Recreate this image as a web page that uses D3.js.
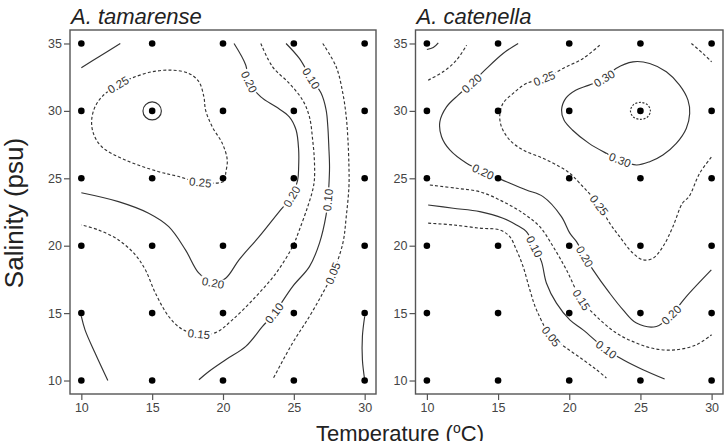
<!DOCTYPE html>
<html>
<head>
<meta charset="utf-8">
<script src="https://d3js.org/d3.v7.min.js"></script>
<style>
  body { margin: 0; background: #fff; }
  svg { display: block; }
  text { font-family: "Liberation Sans", Arial, Helvetica, sans-serif; }
</style>
</head>
<body>
<svg width="725" height="441"></svg>
<script>
// grid of measured points
var temps = [10, 15, 20, 25, 30];
var salinities = [10, 15, 20, 25, 30, 35];
var tempTicks = [10, 15, 20, 25, 30];
var salTicks = [10, 15, 20, 25, 30, 35];

// contour traces: [temperature, salinity, labelHere]
// A. tamarense
var tamTopLeft = [[10, 33.2], [11.3, 34.05], [12.75, 35]];
var tam025 = [[20.1, 24.8], [18.4, 24.7, 1], [16.8, 25.15], [15.46, 25.49], [13.1, 26.36], [11.44, 27.34],
  [10.85, 28.33], [10.73, 29.32], [10.97, 30.3], [11.5, 31.1], [12.6, 31.95, 1], [13.6, 32.45], [14.99, 32.9],
  [16.4, 33.02], [17.59, 32.78], [18.3, 32.16], [18.65, 31.04], [18.77, 30.06], [19.24, 28.82], [19.95, 27.59],
  [20.3, 26.36], [20.19, 25.37]];
var tamRing = [[15.65, 30], [15.46, 30.47], [15, 30.67], [14.54, 30.47], [14.35, 30], [14.54, 29.53], [15, 29.33], [15.46, 29.53]];
var tam020 = [[20.78, 35], [21.61, 33.39], [21.84, 32.16, 1], [22.67, 31.04], [23.74, 30.3], [24.68, 29.56],
  [25.16, 28.58], [25.34, 27.1], [25.34, 25.86], [25.27, 24.87], [24.85, 23.65, 1], [23.97, 22.53], [22.55, 20.67],
  [21.13, 18.95], [20.19, 17.59], [19.3, 17.25, 1], [18.3, 17.96], [17.35, 19.69], [16.17, 21.41], [14.75, 22.41],
  [12.62, 23.27], [10, 23.93]];
var tam015 = [[22.67, 35], [23.5, 33.27], [24.68, 32.04], [25.62, 30.8], [26.1, 29.56], [26.33, 27.84],
  [26.45, 26.36], [26.45, 24.87], [26.33, 24.13], [25.98, 22.9], [25.39, 21.17], [24.91, 19.93], [23.74, 17.96],
  [22.32, 16.23], [20.66, 14.5], [19.48, 13.55], [18.3, 13.45, 1], [17.11, 13.81], [16.17, 14.75], [15.23, 16.48],
  [14.52, 18.21], [13.81, 19.32], [12.62, 20.43], [11.2, 21.17], [10, 21.54]];
var tam010 = [[24.45, 35], [25.39, 33.89], [26.22, 32.41, 1], [26.93, 31.3], [27.28, 30.06], [27.4, 28.82],
  [27.47, 27.34], [27.52, 25.86], [27.47, 24.38], [27.4, 23.39, 1], [27.28, 22.28], [26.81, 20.19], [26.1, 18.45],
  [24.91, 16.97], [23.62, 15.0, 1], [22.79, 14.01], [21.61, 12.53], [20.19, 11.54], [19.0, 10.67], [18.3, 10.06]];
var tam005 = [[27.04, 35], [27.99, 33.27], [28.46, 31.3], [28.7, 29.56], [28.82, 27.84], [28.89, 25.86],
  [28.89, 24.38], [28.7, 22.16], [28.46, 20.19], [27.75, 17.96, 1], [27.04, 16.48], [26.1, 14.75], [24.91, 12.78],
  [23.5, 10.06]];
var tamBottomLeft = [[10, 14.75], [10.26, 13.76], [10.97, 12.04], [11.87, 10]];
var tamBottomRight = [[30, 14.75], [29.84, 13.27], [29.84, 11.54], [30, 10.06]];

// A. catenella
var catCorner = [[10, 34.55], [10.45, 34.7], [10.8, 35.05]];
var catTopLeft = [[10.09, 32.28], [11.14, 32.9], [12.08, 33.76], [12.79, 34.87]];
var cat020 = [[16.41, 35], [15.35, 34.26], [14.07, 33.02], [13.14, 32.04, 1], [12.2, 31.17], [11.38, 30.3],
  [10.91, 29.19], [11.03, 28.08], [11.61, 27.1], [12.79, 26.11], [13.95, 25.49, 1], [15.59, 24.75], [16.99, 24.13],
  [18.16, 23.64], [19.45, 22.16], [20.04, 20.93], [20.51, 20.3], [21.09, 19.19, 1], [21.67, 18.21], [22.84, 16.48],
  [23.78, 15.24], [24.72, 14.26], [26.12, 14.01], [27.17, 14.87, 1], [28.22, 16.23], [29.98, 18.21]];
var cat025 = [[22.14, 34.87], [20.97, 33.89], [19.56, 33.15], [18.25, 32.41, 1], [16.99, 32.04], [16.06, 31.3],
  [15.35, 30.56], [15.12, 29.69], [15.24, 28.82], [15.82, 27.84], [16.76, 27.1], [18.16, 26.48], [19.33, 25.86],
  [20.04, 25.37], [20.74, 24.63], [22.1, 23.0, 1], [22.84, 21.67], [23.54, 20.67], [24.48, 19.44], [25.18, 18.95],
  [25.88, 19.07], [26.58, 19.93], [27.28, 21.41], [27.95, 23.15], [28.41, 23.64], [29.16, 25.37], [30, 26.6]];
var catTopRight = [[28.58, 35], [29.39, 34.26], [30, 33.64]];
var cat030 = [[22.46, 32.41, 1], [23.28, 33.15], [24.48, 33.64], [25.65, 33.52], [26.82, 32.9], [27.75, 31.91],
  [28.34, 30.8], [28.46, 29.81], [28.22, 28.7], [27.52, 27.59], [26.58, 26.73], [25.65, 26.23], [24.72, 25.99],
  [23.56, 26.36, 1], [22.61, 26.85], [21.39, 27.59], [20.22, 28.58], [19.63, 29.32], [19.46, 30.06], [19.75, 30.93],
  [20.45, 31.54], [21.39, 31.91]];
var catRing = [[25.7, 30], [25.5, 30.45], [25, 30.63], [24.5, 30.45], [24.3, 30], [24.5, 29.55], [25, 29.37], [25.5, 29.55]];
var cat015 = [[10.21, 24.5], [12.08, 24.26], [13.72, 24.0], [15.35, 23.27], [16.76, 22.41], [17.93, 21.41],
  [18.87, 19.93], [19.8, 18.21], [20.86, 15.98, 1], [21.91, 14.75], [23.31, 13.52], [24.72, 12.78], [26.12, 12.33],
  [27.52, 12.28], [28.93, 12.65], [30, 13.4]];
var cat010 = [[10.09, 23.02], [11.85, 22.78], [13.72, 22.53], [15.35, 22.04], [16.29, 21.54], [16.99, 21.04],
  [17.56, 19.93, 1], [18.05, 18.82], [18.4, 17.22], [19.1, 15.74], [20.04, 14.5], [20.97, 13.76], [22.6, 12.3, 1],
  [23.78, 11.54], [25.18, 10.8], [26.7, 10.11]];
var cat005 = [[10.09, 21.67], [11.85, 21.54], [13.72, 21.3], [15.12, 21.17], [15.82, 20.67], [16.29, 19.69],
  [16.76, 18.45], [17.23, 16.73], [17.7, 15.24], [18.73, 13.27, 1], [19.8, 12.41], [20.97, 11.54], [21.91, 10.8],
  [22.61, 10.19]];

var panels = [
  { title: "A. tamarense", left: 70, right: 376, contours: [
    { level: 0.20, pts: tamTopLeft }, { level: 0.25, pts: tam025, closed: true },
    { level: 0.30, pts: tamRing, closed: true }, { level: 0.20, pts: tam020 },
    { level: 0.15, pts: tam015 }, { level: 0.10, pts: tam010 }, { level: 0.05, pts: tam005 },
    { level: 0.10, pts: tamBottomLeft }, { level: 0.00, pts: tamBottomRight } ] },
  { title: "A. catenella", left: 415.5, right: 723, contours: [
    { level: 0.10, pts: catCorner }, { level: 0.15, pts: catTopLeft }, { level: 0.20, pts: cat020 },
    { level: 0.25, pts: cat025 }, { level: 0.25, pts: catTopRight }, { level: 0.30, pts: cat030, closed: true },
    { level: 0.35, pts: catRing, closed: true }, { level: 0.15, pts: cat015 }, { level: 0.10, pts: cat010 },
    { level: 0.05, pts: cat005 } ] }
];

var svg = d3.select("svg");
var top0 = 30, bottom0 = 394;
var fmt = d3.format(".2f");
var ink = "#333";

panels.forEach(function(p, pi) {
  var x = d3.scaleLinear().domain([9.2, 30.8]).range([p.left, p.right]);
  var y = d3.scaleLinear().domain([9, 36]).range([bottom0, top0]);
  var g = svg.append("g");

  // axes (frame drawn separately)
  var ya = g.append("g").attr("transform", "translate(" + p.left + ",0)")
    .call(d3.axisLeft(y).tickValues(salTicks).tickSize(6).tickPadding(2));
  var xa = g.append("g").attr("transform", "translate(0," + bottom0 + ")")
    .call(d3.axisBottom(x).tickValues(tempTicks).tickSize(6).tickPadding(3));
  [ya, xa].forEach(function(a) {
    a.select(".domain").remove();
    a.attr("font-family", null).attr("font-size", null);
    a.selectAll("line").attr("stroke", "#555").attr("stroke-width", 1.2);
    a.selectAll("text").attr("fill", "#444").style("font-size", "12.5px");
  });

  g.append("rect")
    .attr("x", p.left).attr("y", top0)
    .attr("width", p.right - p.left).attr("height", bottom0 - top0)
    .attr("fill", "none").attr("stroke", "#555").attr("stroke-width", 1.4);

  g.append("text")
    .attr("x", p.left + 1).attr("y", 24)
    .attr("font-style", "italic").attr("font-size", 22).attr("fill", "#222")
    .text(p.title);

  var cg = g.append("g");
  p.contours.forEach(function(c) {
    var dashed = Math.round(c.level * 100) % 10 === 5;
    var line = d3.line()
      .x(function(d) { return x(d[0]); })
      .y(function(d) { return y(d[1]); })
      .curve(c.closed ? d3.curveCatmullRomClosed : d3.curveCatmullRom);
    cg.append("path")
      .attr("d", line(c.pts))
      .attr("fill", "none")
      .attr("stroke", ink)
      .attr("stroke-width", 1.15)
      .attr("stroke-dasharray", dashed ? (c.pts.length < 10 && c.closed ? "2,1.6" : "3,2.2") : null);

    // labels sit in a gap of the line, aligned with it
    var n = c.pts.length;
    c.pts.forEach(function(d, i) {
      if (!d[2]) return;
      var a = c.pts[(i - 1 + n) % n], b = c.pts[(i + 1) % n];
      var ang = Math.atan2(y(b[1]) - y(a[1]), x(b[0]) - x(a[0])) * 180 / Math.PI;
      if (ang > 90) ang -= 180;
      if (ang < -90) ang += 180;
      var lg = cg.append("g")
        .attr("transform", "translate(" + x(d[0]) + "," + y(d[1]) + ") rotate(" + ang + ")");
      var rect = lg.append("rect").attr("fill", "#fff");
      var t = lg.append("text")
        .attr("text-anchor", "middle").attr("dy", "0.36em")
        .attr("font-size", 11.5).attr("fill", ink)
        .text(fmt(c.level));
      var w = t.node().getComputedTextLength() + 3;
      rect.attr("x", -w / 2).attr("y", -5).attr("width", w).attr("height", 10);
    });
  });

  // sampling points
  var grid = d3.cross(temps, salinities);
  g.append("g").selectAll("circle")
    .data(grid).enter().append("circle")
    .attr("cx", function(d) { return x(d[0]); })
    .attr("cy", function(d) { return y(d[1]); })
    .attr("r", 3.3)
    .attr("fill", "#000");
});

svg.append("text")
  .attr("transform", "translate(23,213) rotate(-90)")
  .attr("text-anchor", "middle")
  .attr("font-size", 26).attr("fill", "#222")
  .text("Salinity (psu)");

var xt = svg.append("text")
  .attr("x", 316).attr("y", 441)
  .attr("font-size", 22).attr("fill", "#222");
xt.append("tspan").text("Temperature (");
xt.append("tspan").attr("dy", -8).attr("font-size", 14).text("o");
xt.append("tspan").attr("dy", 8).text("C)");
</script>
</body>
</html>
